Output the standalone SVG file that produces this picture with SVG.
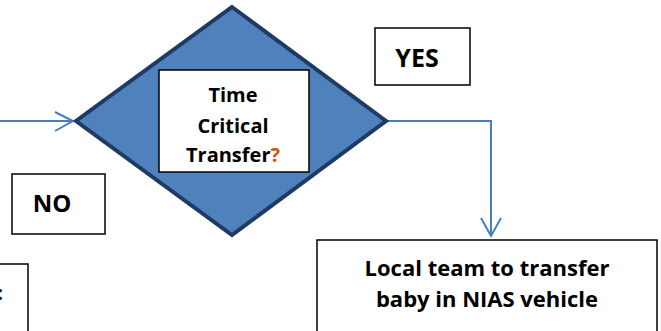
<svg xmlns="http://www.w3.org/2000/svg" width="661" height="331" viewBox="0 0 661 331">
<style>
.box{fill:#fff;stroke:#000;stroke-width:1.5}
.lbl{font-family:"Open Sans","Liberation Sans",sans-serif;font-weight:700;fill:#000;text-anchor:middle}
.conn{fill:none;stroke:#4A7EBB;stroke-width:2}
</style>
<rect width="661" height="331" fill="#fff"/>
<g id="connectors">
<path class="conn" d="M0,121 H74"/>
<path class="conn" d="M55,112 L73,121 L55,131"/>
<path class="conn" d="M386,121 H491 V236"/>
<path class="conn" d="M481,218 L491,236 L501,218"/>
</g>
<g id="decision">
<polygon points="232,7 386,121 232,235 76,121" fill="#4F81BD" stroke="#1F3A63" stroke-width="4" stroke-linejoin="miter"/>
<rect class="box" x="159" y="70" width="150" height="102"/>
<text class="lbl" font-size="20" x="233" y="102">Time</text>
<text class="lbl" font-size="20" x="233" y="133">Critical</text>
<text class="lbl" font-size="20" x="233" y="162">Transfer<tspan fill="#C65911">?</tspan></text>
</g>
<g id="yes">
<rect class="box" x="375" y="28" width="95" height="57"/>
<text class="lbl" font-size="25" x="417" y="67">YES</text>
</g>
<g id="no">
<rect class="box" x="12" y="174" width="93" height="60"/>
<text class="lbl" font-size="24" x="52" y="212">NO</text>
</g>
<g id="left-box">
<rect class="box" x="-2" y="264" width="30" height="80"/>
<text class="lbl" font-size="20" x="3" y="300" style="text-anchor:end">:</text>
</g>
<g id="local-team">
<rect class="box" x="317" y="240" width="340" height="100"/>
<text class="lbl" font-size="22" x="487" y="276">Local team to transfer</text>
<text class="lbl" font-size="22" x="487" y="307">baby in NIAS vehicle</text>
</g>
</svg>
